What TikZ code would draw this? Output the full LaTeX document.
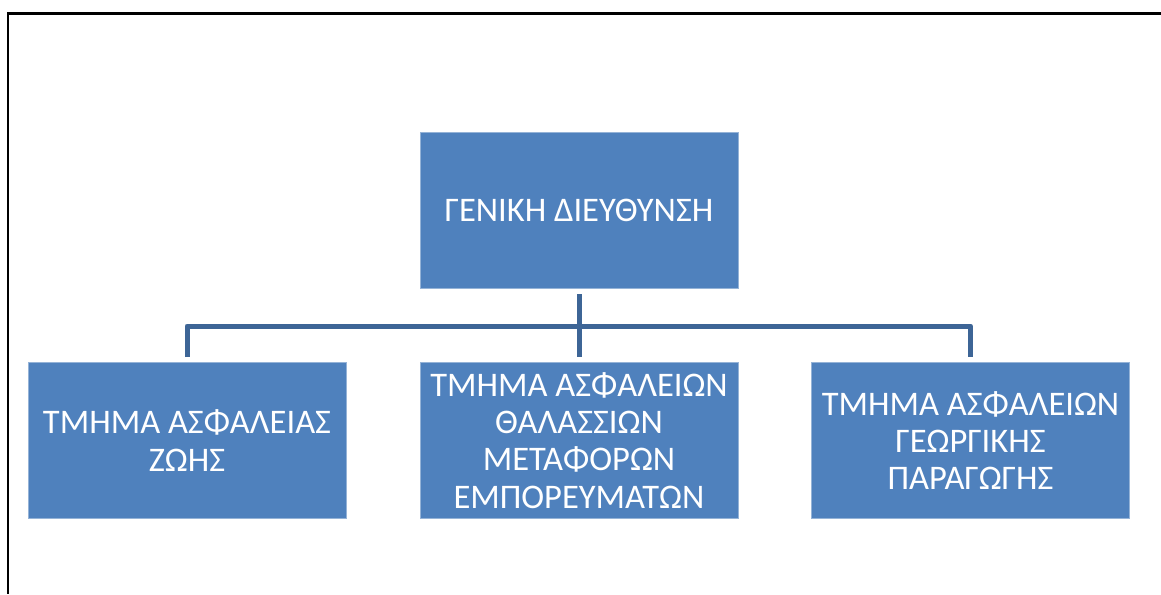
\documentclass[tikz,border=0pt]{standalone}
\usepackage{fontspec}
\setmainfont{Carlito}
\definecolor{boxblue}{RGB}{79,129,189}
\definecolor{boxedge}{RGB}{149,179,215}
\definecolor{linkblue}{RGB}{61,101,150}
\tikzset{
  unit/.style={rectangle, fill=boxblue, draw=boxedge, line width=0.8pt,
    minimum width=318pt, minimum height=156pt, inner sep=0pt,
    align=center, text=white,
    font=\fontsize{34.5}{37.2}\selectfont},
  conn/.style={draw=linkblue, line width=5pt, line join=round},
  frame/.style={draw=black, line width=2.2pt}
}
\begin{document}
\begin{tikzpicture}[x=1pt,y=-1pt]
  \useasboundingbox (0,0) rectangle (1161,594);
  % page frame
  \draw[frame] (1161,13.5) -- (8,13.5) -- (8,594);
  % units
  \node[unit] (head) at (579,210) {ΓΕΝΙΚΗ ΔΙΕΥΘΥΝΣΗ};
  \node[unit] (life) at (187,440.5) {ΤΜΗΜΑ ΑΣΦΑΛΕΙΑΣ\\ΖΩΗΣ};
  \node[unit] (marine) at (579,440.5) {ΤΜΗΜΑ ΑΣΦΑΛΕΙΩΝ\\ΘΑΛΑΣΣΙΩΝ\\ΜΕΤΑΦΟΡΩΝ\\ΕΜΠΟΡΕΥΜΑΤΩΝ};
  \node[unit] (agri) at (970.5,440.5) {ΤΜΗΜΑ ΑΣΦΑΛΕΙΩΝ\\ΓΕΩΡΓΙΚΗΣ\\ΠΑΡΑΓΩΓΗΣ};
  % connectors
  \coordinate (bar) at (579,326);
  \draw[conn] ([yshift=-6pt]head.south) -- ([yshift=5pt]marine.north);
  \draw[conn] ([yshift=5pt]life.north) |- (bar) -| ([yshift=5pt]agri.north);
\end{tikzpicture}
\end{document}
